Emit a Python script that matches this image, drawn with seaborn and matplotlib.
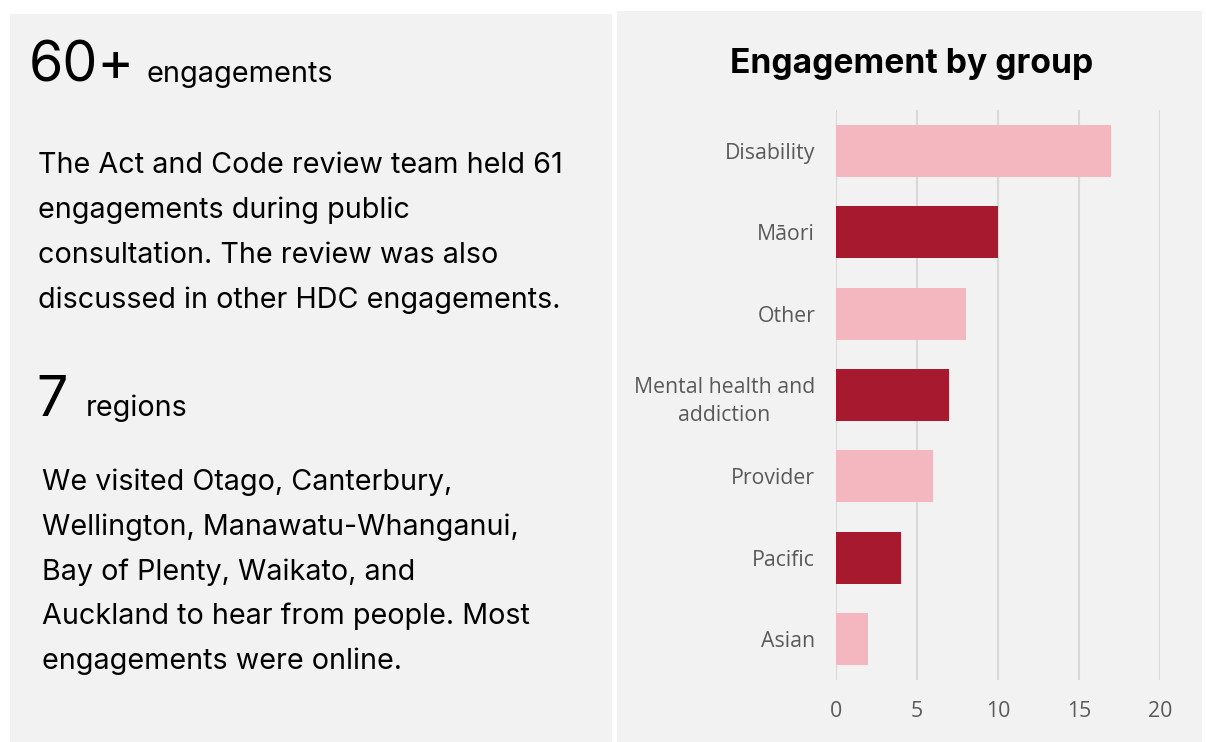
import matplotlib
matplotlib.use("Agg")
import matplotlib.pyplot as plt
import seaborn as sns
import pandas as pd
from matplotlib.patches import Rectangle

groups = ["Disability", "Māori", "Other", "Mental health and\naddiction", "Provider", "Pacific", "Asian"]
values = [17, 10, 8, 7, 6, 4, 2]
bar_colors = ["#F4B6BF", "#A6192E", "#F4B6BF", "#A6192E", "#F4B6BF", "#A6192E", "#F4B6BF"]
x_ticks = [0, 5, 10, 15, 20]

W, H = 1206, 742
sns.set_theme(style="white")
plt.rcParams['font.family'] = ['Inter', 'DejaVu Sans']

fig = plt.figure(figsize=(W / 100, H / 100), dpi=100)
fig.patch.set_facecolor("white")

def fx(px):
    return px / W

def fy(py):
    return 1 - py / H

bg = "#F2F2F2"
fig.patches.append(Rectangle((fx(10), 0), fx(612 - 10), fy(14), transform=fig.transFigure,
                             facecolor=bg, edgecolor="none", zorder=-5))
fig.patches.append(Rectangle((fx(617), 0), fx(1202 - 617), fy(11), transform=fig.transFigure,
                             facecolor=bg, edgecolor="none", zorder=-5))

# left text
fig.text(fx(29), fy(82), "60+", fontsize=40, color="black", va="baseline", ha="left")
fig.text(fx(147), fy(82), "engagements", fontsize=20.8, color="black", va="baseline", ha="left")
body1 = ["The Act and Code review team held 61",
         "engagements during public",
         "consultation. The review was also",
         "discussed in other HDC engagements."]
for i, line in enumerate(body1):
    fig.text(fx(38), fy(173 + i * 45), line, fontsize=20.7, color="black", va="baseline", ha="left")
fig.text(fx(36), fy(416), "7", fontsize=40, color="black", va="baseline", ha="left")
fig.text(fx(86), fy(416), "regions", fontsize=20.7, color="black", va="baseline", ha="left")
body2 = ["We visited Otago, Canterbury,",
         "Wellington, Manawatu-Whanganui,",
         "Bay of Plenty, Waikato, and",
         "Auckland to hear from people. Most",
         "engagements were online."]
for i, line in enumerate(body2):
    fig.text(fx(42), fy(490 + i * 44.8), line, fontsize=20.7, color="black", va="baseline", ha="left")

# chart
ax = fig.add_axes([fx(836), fy(680), fx(1160 - 836), fy(110) - fy(680)])
ax.set_facecolor("none")
df = pd.DataFrame({"group": groups, "value": values})
sns.barplot(data=df, x="value", y="group", hue="group", palette=bar_colors, legend=False,
            orient="h", width=0.64, ax=ax, saturation=1, zorder=3, linewidth=0, edgecolor="none")
ax.set_xlim(0, 20)
ax.set_ylim(6.5, -0.5)
ax.set_xticks(x_ticks)
ax.set_xticklabels([str(t) for t in x_ticks])
ax.grid(axis="x", color="#D9D9D9", linewidth=1.5, zorder=0)
ax.set_axisbelow(True)
for s in ax.spines.values():
    s.set_visible(False)
ax.set_xlabel("")
ax.set_ylabel("")
ax.tick_params(axis="both", length=0, labelsize=15.3, colors="#595959")
ax.tick_params(axis="x", pad=15)
ax.tick_params(axis="y", pad=15)
for lbl in ax.get_yticklabels():
    lbl.set_multialignment("center")
    lbl.set_linespacing(1.45)
    lbl.set_family(["Open Sans", "DejaVu Sans"])
for lbl in ax.get_xticklabels():
    lbl.set_family(["Open Sans", "DejaVu Sans"])

fig.text(fx(912), fy(64), "Engagement by group", fontsize=24.2, fontweight="bold", color="black",
         ha="center", va="center")

fig.savefig("out.png", dpi=100, facecolor="white")
